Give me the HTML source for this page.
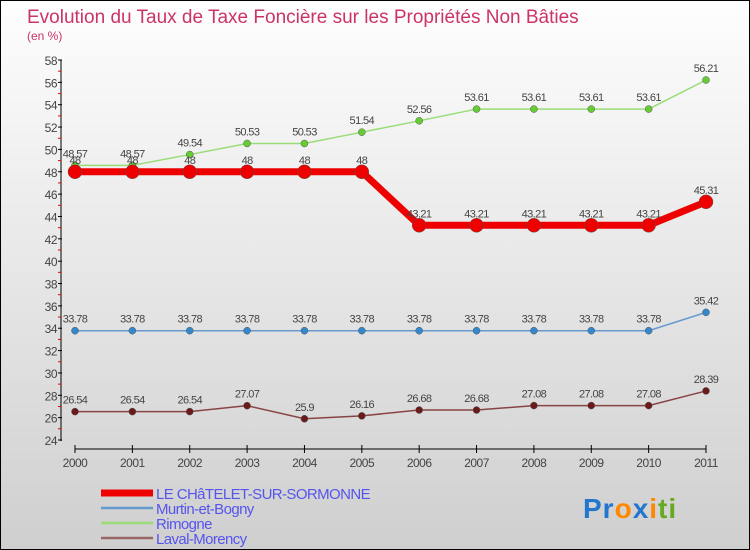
<!DOCTYPE html>
<html><head><meta charset="utf-8"><style>
body{margin:0}
#c{width:748px;height:548px;border:1px solid #000;background:linear-gradient(#fefefe,#cfcfcf);position:relative;font-family:"Liberation Sans",sans-serif}
</style></head><body>
<div id="c">
<svg id="s" width="748" height="548" style="position:absolute;left:0;top:0">
<text x="26" y="22" font-size="19" fill="#cc3366">Evolution du Taux de Taxe Foncière sur les Propriétés Non Bâties</text>
<text x="26" y="39" font-size="12" fill="#cc3366">(en %)</text>
<g id="g"></g>
<text x="582" y="517" font-size="28" font-weight="bold" letter-spacing="1"><tspan fill="#2277cc">Pr</tspan><tspan fill="#ff8800">o</tspan><tspan fill="#2277cc">x</tspan><tspan fill="#ff8800">i</tspan><tspan fill="#66aa22">ti</tspan></text>
</svg>
</div>
<script>
const years=[2000,2001,2002,2003,2004,2005,2006,2007,2008,2009,2010,2011];
const chatelet=[48,48,48,48,48,48,43.21,43.21,43.21,43.21,43.21,45.31];
const murtin=[33.78,33.78,33.78,33.78,33.78,33.78,33.78,33.78,33.78,33.78,33.78,35.42];
const rimogne=[48.57,48.57,49.54,50.53,50.53,51.54,52.56,53.61,53.61,53.61,53.61,56.21];
const laval=[26.54,26.54,26.54,27.07,25.9,26.16,26.68,26.68,27.08,27.08,27.08,28.39];
const yTicks=[24,26,28,30,32,34,36,38,40,42,44,46,48,50,52,54,56,58];
const NS="http://www.w3.org/2000/svg",g=document.getElementById('g');
const X=i=>74+i*(705-74)/(years.length-1);
const Y=v=>439-(v-24)*380/34;
function el(t,a){const e=document.createElementNS(NS,t);for(const k in a)e.setAttribute(k,a[k]);g.appendChild(e);return e;}
let e=el('line',{x1:60,y1:59,x2:60,y2:440,stroke:'#000'});


e=el('line',{x1:74,y1:448,x2:705,y2:448,stroke:'#000'});


yTicks.forEach(v=>{
 let t=el('line',{x1:57,y1:Y(v),x2:61,y2:Y(v),stroke:'#000'});
 
 
 if(v<58){let m=el('line',{x1:57,y1:Y(v+1),x2:60,y2:Y(v+1),stroke:'#e00'});
 
 }
 let l=el('text',{x:56,y:Y(v)+5,'font-size':12,fill:'#444','text-anchor':'end','letter-spacing':-0.5});l.textContent=v;
 
 
});
years.forEach((yr,i)=>{
 let t=el('line',{x1:X(i),y1:444,x2:X(i),y2:452,stroke:'#000'});
 
 
 let l=el('text',{x:X(i),y:466,'font-size':12,fill:'#444','text-anchor':'middle','letter-spacing':-0.5});l.textContent=yr;
 
 
});
function series(d,col,dot,w,r,name){
 let p=el('polyline',{points:d.map((v,i)=>X(i)+','+Y(v)).join(' '),fill:'none',stroke:col,'stroke-width':w});
 
 
 d.forEach((v,i)=>{
  let c=el('circle',{cx:X(i),cy:Y(v),r:r,fill:dot,stroke:'#555','stroke-width':0.5});
  
  
  let t=el('text',{x:X(i),y:Y(v)-8,'font-size':11,fill:'#444','text-anchor':'middle','letter-spacing':-0.6});t.textContent=v;
  
  
 });
}
series(laval,'#884444','#6a1a1a',1.5,3.5,'laval-morency');
series(murtin,'#6699cc','#3388cc',1.5,3.5,'murtin-et-bogny');
series(rimogne,'#99dd77','#66cc33',1.5,3.5,'rimogne');
series(chatelet,'#ee0000','#ee0000',7,7,'le-chatelet');
const leg=[['LE CHâTELET-SUR-SORMONNE','#ee0000',7],['Murtin-et-Bogny','#6699cc',2.5],['Rimogne','#99dd77',2.5],['Laval-Morency','#996666',2.5]];
leg.forEach((L,i)=>{
 const y=492+i*15;
 let l=el('line',{x1:100,y1:y,x2:152,y2:y,stroke:L[1],'stroke-width':L[2]});
 
 
 let t=el('text',{x:155,y:y+6,'font-size':15,fill:'#5555ee','letter-spacing':-0.6});t.textContent=L[0];
 
 
});
</script>
</body></html>
